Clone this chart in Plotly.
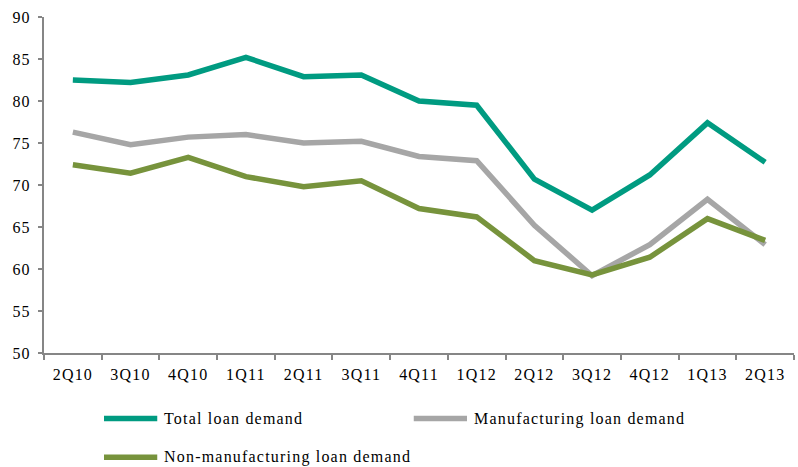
import plotly.graph_objects as go

quarters = ["2Q10", "3Q10", "4Q10", "1Q11", "2Q11", "3Q11", "4Q11",
            "1Q12", "2Q12", "3Q12", "4Q12", "1Q13", "2Q13"]
total_demand = [82.5, 82.2, 83.1, 85.2, 82.9, 83.1, 80.0, 79.5, 70.7, 67.0, 71.2, 77.4, 72.7]
manufacturing_demand = [76.3, 74.8, 75.7, 76.0, 75.0, 75.2, 73.4, 72.9, 65.2, 59.2, 62.9, 68.3, 62.9]
non_manufacturing_demand = [72.4, 71.4, 73.3, 71.0, 69.8, 70.5, 67.2, 66.2, 61.0, 59.3, 61.4, 66.0, 63.4]

series = [
    ("Total loan demand", total_demand, "#009B81"),
    ("Manufacturing loan demand", manufacturing_demand, "#A6A6A6"),
    ("Non-manufacturing loan demand", non_manufacturing_demand, "#77933C"),
]

FONT = "Liberation Serif"
AXIS_COLOR = "#868686"

fig = go.Figure()
# draw manufacturing first so total and non-manufacturing sit on top
for idx in [1, 0, 2]:
    name, vals, color = series[idx]
    fig.add_trace(go.Scatter(
        x=quarters, y=vals, name=name, mode="lines",
        line=dict(color=color, width=5.5),
        showlegend=False, hoverinfo="x+y+name",
    ))

# custom legend: two columns, swatch + label
legend_items = [
    (series[0], 0.08, -0.195),
    (series[1], 0.493, -0.195),
    (series[2], 0.08, -0.31),
]
shapes = []
annotations = []
for (name, _, color), x0, y0 in legend_items:
    shapes.append(dict(type="line", xref="paper", yref="paper",
                       x0=x0, x1=x0 + 0.071, y0=y0, y1=y0,
                       line=dict(color=color, width=5.5)))
    annotations.append(dict(xref="paper", yref="paper", x=x0 + 0.077, y=y0,
                            text=name, showarrow=False, xanchor="left",
                            yanchor="middle", align="left",
                            font=dict(family=FONT, size=16, color="#000000")))

fig.update_layout(
    width=798, height=467,
    margin=dict(l=44, r=4, t=17, b=114),
    paper_bgcolor="white", plot_bgcolor="white",
    font=dict(family=FONT, size=16, color="#000000"),
    shapes=shapes, annotations=annotations,
    xaxis=dict(
        type="category", showgrid=False, showline=True,
        linecolor=AXIS_COLOR, linewidth=2,
        ticks="outside", ticklen=5, tickcolor=AXIS_COLOR, tickwidth=2,
        tickson="boundaries", range=[-0.5, 12.5], ticklabelstandoff=6,
        tickfont=dict(family=FONT, size=16, color="#000000"),
    ),
    yaxis=dict(
        range=[50, 90], dtick=5, showgrid=False, showline=True,
        linecolor=AXIS_COLOR, linewidth=2, zeroline=False,
        ticks="outside", ticklen=4, tickcolor=AXIS_COLOR, tickwidth=2,
        ticklabelstandoff=4,
        tickfont=dict(family=FONT, size=16, color="#000000"),
    ),
)

# slightly open letter spacing for all chart text
spacing_js = (
    "var s=document.createElement('style');"
    "s.textContent='.main-svg text{letter-spacing:1.2px}';"
    "document.head.appendChild(s);"
)
fig.write_html("out.html", post_script=spacing_js)
